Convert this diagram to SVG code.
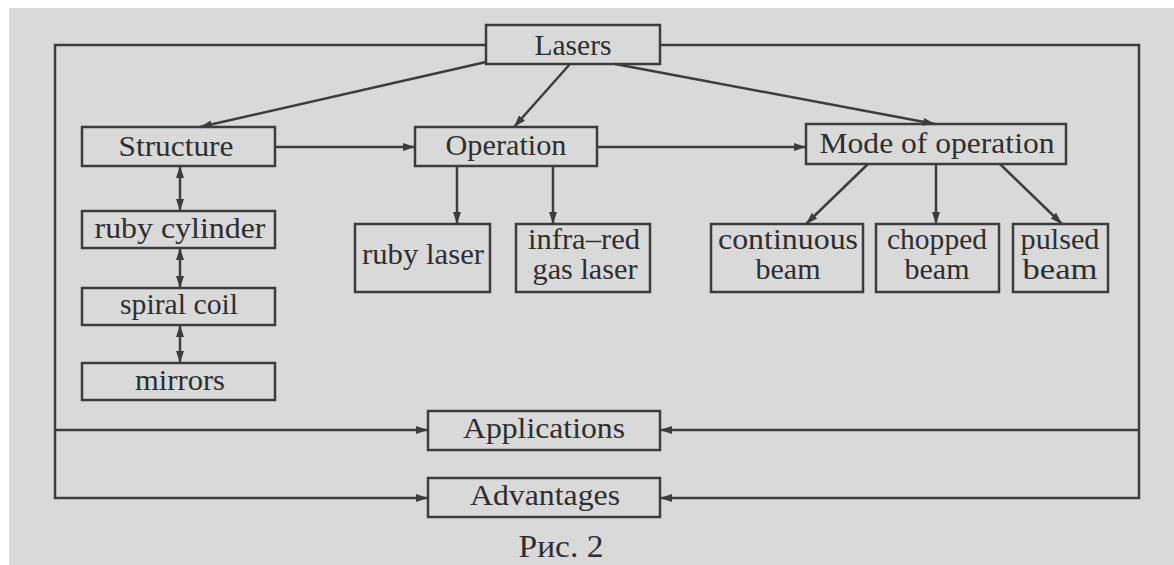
<svg xmlns="http://www.w3.org/2000/svg" width="1174" height="565" viewBox="0 0 1174 565">
<defs>
<marker id="ah" viewBox="0 0 12 8" refX="12" refY="4" markerWidth="12" markerHeight="8" markerUnits="userSpaceOnUse" orient="auto-start-reverse">
<path d="M0,0 L12,4 L0,8 Z" fill="#3c3c3c"/>
</marker>
</defs>
<style>
.box{fill:none;stroke:#3c3c3c;stroke-width:2.5}
.t{font-size:29px;fill:#2e2e2e;text-anchor:middle}
.c{fill:none;stroke:#3c3c3c;stroke-width:2.5}
.a{marker-end:url(#ah)}
.d{marker-start:url(#ah);marker-end:url(#ah)}
</style>
<rect x="0" y="0" width="1174" height="565" fill="#fff"/>
<rect x="9" y="8" width="1165" height="557" fill="#d9d9d9"/>

<g id="connectors">
<path class="c a" d="M486,45 H55 V498 H428"/>
<path class="c a" d="M55,430 H428"/>
<path class="c a" d="M660,45 H1139 V498 H660"/>
<path class="c a" d="M1139,430 H660"/>
<path class="c a" d="M275,147 H415"/>
<path class="c a" d="M597,147 H806"/>
<path class="c a" d="M486,62 L200,127"/>
<path class="c a" d="M570,64 L514,127"/>
<path class="c a" d="M615,64 L935,124"/>
<path class="c a" d="M457,166 V224"/>
<path class="c a" d="M553,166 V224"/>
<path class="c a" d="M868,164 L806,224"/>
<path class="c a" d="M936,164 V224"/>
<path class="c a" d="M1000,164 L1062,224"/>
<path class="c d" d="M180,166 V211"/>
<path class="c d" d="M180,248 V288"/>
<path class="c d" d="M180,325 V363"/>
</g>

<g font-family="'Liberation Serif', Tinos, 'Times New Roman', Times, serif">
<g id="lasers"><rect class="box" x="486" y="25" width="174" height="39"/><text class="t" x="573" y="55" textLength="77" lengthAdjust="spacingAndGlyphs">Lasers</text></g>
<g id="structure"><rect class="box" x="82" y="127" width="193" height="39"/><text class="t" x="176" y="156" textLength="115" lengthAdjust="spacingAndGlyphs">Structure</text></g>
<g id="operation"><rect class="box" x="415" y="127" width="182" height="39"/><text class="t" x="506" y="155" textLength="121" lengthAdjust="spacingAndGlyphs">Operation</text></g>
<g id="mode"><rect class="box" x="806" y="124" width="260" height="40"/><text class="t" x="937" y="153" textLength="235" lengthAdjust="spacingAndGlyphs">Mode of operation</text></g>
<g id="ruby-cylinder"><rect class="box" x="82" y="211" width="193" height="37"/><text class="t" x="180" y="238" textLength="171" lengthAdjust="spacingAndGlyphs">ruby cylinder</text></g>
<g id="spiral-coil"><rect class="box" x="82" y="288" width="193" height="37"/><text class="t" x="179" y="314" textLength="118" lengthAdjust="spacingAndGlyphs">spiral coil</text></g>
<g id="mirrors"><rect class="box" x="82" y="363" width="193" height="37"/><text class="t" x="180" y="390" textLength="90" lengthAdjust="spacingAndGlyphs">mirrors</text></g>
<g id="ruby-laser"><rect class="box" x="355" y="224" width="135" height="68"/><text class="t" x="423" y="264" textLength="122" lengthAdjust="spacingAndGlyphs">ruby laser</text></g>
<g id="infra-red"><rect class="box" x="516" y="224" width="134" height="68"/><text class="t" x="584" y="249" textLength="112" lengthAdjust="spacingAndGlyphs">infra–red</text><text class="t" x="585" y="279" textLength="105" lengthAdjust="spacingAndGlyphs">gas laser</text></g>
<g id="continuous"><rect class="box" x="711" y="224" width="152" height="68"/><text class="t" x="788" y="249" textLength="140" lengthAdjust="spacingAndGlyphs">continuous</text><text class="t" x="788" y="279" textLength="65" lengthAdjust="spacingAndGlyphs">beam</text></g>
<g id="chopped"><rect class="box" x="876" y="224" width="123" height="68"/><text class="t" x="937" y="249" textLength="100" lengthAdjust="spacingAndGlyphs">chopped</text><text class="t" x="937" y="279" textLength="65" lengthAdjust="spacingAndGlyphs">beam</text></g>
<g id="pulsed"><rect class="box" x="1013" y="224" width="95" height="68"/><text class="t" x="1060" y="249" textLength="79" lengthAdjust="spacingAndGlyphs">pulsed</text><text class="t" x="1060" y="279" textLength="75" lengthAdjust="spacingAndGlyphs">beam</text></g>
<g id="applications"><rect class="box" x="428" y="411" width="232" height="39"/><text class="t" x="544" y="438" textLength="162" lengthAdjust="spacingAndGlyphs">Applications</text></g>
<g id="advantages"><rect class="box" x="428" y="478" width="232" height="39"/><text class="t" x="545" y="505" textLength="150" lengthAdjust="spacingAndGlyphs">Advantages</text></g>
<text class="t" x="561" y="557" style="font-size:31px" textLength="85" lengthAdjust="spacingAndGlyphs">Рис. 2</text>
</g>
</svg>
